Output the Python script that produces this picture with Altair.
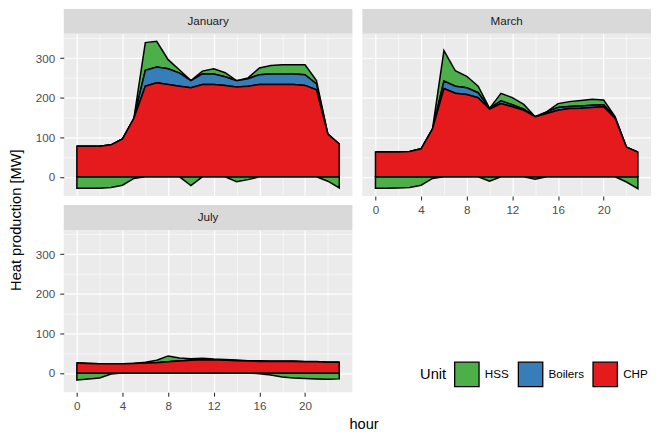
import altair as alt
import pandas as pd

months = ["January", "March", "July"]
hours = list(range(24))
units = ["HSS", "Boilers", "CHP"]
unit_colors = ["#4DAF4A", "#377EB8", "#E41A1C"]

# CHP production [MW]
chp_jan = [77.5, 77.5, 77.5, 81, 96, 148, 229, 237.5, 233, 229, 225, 233,
           233, 231, 227, 229, 233, 233, 233, 233, 231, 220, 108, 83]
chp_mar = [62.5, 62.5, 62.5, 64, 71, 121, 223, 211, 208, 200, 171, 185,
           177, 168, 152, 160, 168, 172.5, 173, 175, 177, 148, 75, 62.5]
chp_jul = [25, 24, 23, 23, 23, 24, 25, 26, 28, 30, 32, 33,
           33, 32, 31, 30, 29, 29, 29, 29, 28, 28, 27, 27]

# Boilers production [MW]
boil_jan = [0, 0, 0, 0, 0, 0, 40, 40, 40, 33, 18, 27,
            27, 22, 16, 19, 25, 27, 27, 27, 27, 15, 0, 0]
boil_mar = [0, 0, 0, 0, 0, 0, 19, 18, 17, 12.5, 2, 7,
            5, 3, 0, 4, 7, 5, 6, 6, 5, 2, 0, 0]
boil_jul = [0] * 24

# Heat storage discharge (positive) [MW]
hss_out_jan = [0, 0, 0, 0, 0, 0, 70, 65, 23, 8, 0, 7,
               13, 10, 0, 2, 17, 21, 23, 23, 25, 8, 0, 0]
hss_out_mar = [0, 0, 0, 0, 0, 0, 77, 39, 29, 16.5, 0, 19,
               18, 12, 0, 0, 10, 12.5, 14, 15, 12, 2, 0, 0]
hss_out_jul = [0, 0, 0, 0, 0, 0, 2, 6, 15, 8, 4, 4,
               2, 2, 2, 1, 2, 1, 1, 1, 1, 1, 0, 0]

# Heat storage charge (negative) [MW]
hss_in_jan = [-29, -29, -29, -27, -21, -4, 0, 0, 0, 0, -22, 0,
              0, 0, -12, -7, 0, 0, 0, 0, 0, 0, -11, -28]
hss_in_mar = [-29, -29, -28, -27, -21, -4, 0, 0, 0, 0, -11, 0,
              0, 0, -6, 0, 0, 0, 0, 0, 0, 0, -13, -30]
hss_in_jul = [-18, -15, -12.5, -2.5, 0, 0, 0, 0, 0, 0, 0, 0,
              0, 0, 0, 0, -2, -5, -10, -13, -14, -15, -16, -15]

chp_all = [chp_jan, chp_mar, chp_jul]
boil_all = [boil_jan, boil_mar, boil_jul]
out_all = [hss_out_jan, hss_out_mar, hss_out_jul]
in_all = [hss_in_jan, hss_in_mar, hss_in_jul]

rows = []
for m, cs, bs, ps, ns in zip(months, chp_all, boil_all, out_all, in_all):
    for h, c, b, p, n in zip(hours, cs, bs, ps, ns):
        rows.append(dict(month=m, hour=h, Unit="CHP", part="CHP", lo=0, hi=c))
        rows.append(dict(month=m, hour=h, Unit="Boilers", part="Boilers", lo=c, hi=c + b))
        rows.append(dict(month=m, hour=h, Unit="HSS", part="HSS out", lo=c + b, hi=c + b + p))
        rows.append(dict(month=m, hour=h, Unit="HSS", part="HSS in", lo=n, hi=0))
df = pd.DataFrame(rows)

ymin, ymax = df["lo"].min(), df["hi"].max()
ypad = 0.05 * (ymax - ymin)
ydom = [float(ymin - ypad), float(ymax + ypad)]
xpad = 0.05 * (max(hours) - min(hours))
xdom = [min(hours) - xpad, max(hours) + xpad]

FONT = "Liberation Sans"
PW, PH, SH = 290, 163, 25

x_major = "datum.value % 4 === 0"
y_major = "datum.value % 100 === 0"


def make_axis(test, values, labels, pad):
    kw = dict(
        values=values,
        title=None,
        grid=True,
        gridColor="white",
        gridWidth={"condition": {"test": test, "value": 1.2}, "value": 0.55},
    )
    if labels:
        kw.update(
            labelExpr=f"{test} ? datum.label : ''",
            ticks=True,
            tickSize=4,
            tickWidth=1.1,
            tickColor={"condition": {"test": test, "value": "#333333"}, "value": "transparent"},
            labelPadding=pad,
        )
    else:
        kw.update(labels=False, ticks=False)
    return alt.Axis(**kw)


color_enc = alt.Color(
    "Unit:N",
    scale=alt.Scale(domain=units, range=unit_colors),
    legend=alt.Legend(
        orient="none", legendX=358, legendY=354, direction="horizontal",
        titleOrient="left", titleBaseline="middle", titleAnchor="middle",
        symbolType="square", symbolSize=600, symbolStrokeColor="black",
        symbolStrokeWidth=1.3, symbolOpacity=1,
        labelFont=FONT, labelFontSize=11.7, labelColor="black", labelOffset=5,
        titleFont=FONT, titleFontSize=14.7, titleFontWeight="normal", titleColor="black",
        titlePadding=7, columnPadding=6, padding=0,
    ),
)


def panel(month, xlabels, ylabels):
    base = alt.Chart(df).transform_filter(alt.datum.month == month)
    xaxis = make_axis(x_major, list(range(0, 24, 2)), xlabels, 4)
    yaxis = make_axis(y_major, list(range(0, 400, 50)), ylabels, 5)
    layers = []
    for part in ["HSS in", "HSS out", "Boilers", "CHP"]:
        layers.append(
            base.transform_filter(alt.datum.part == part)
            .mark_area(stroke="black", strokeWidth=1.5, opacity=1, interpolate="linear")
            .encode(
                x=alt.X("hour:Q", scale=alt.Scale(domain=xdom, nice=False, zero=False), axis=xaxis),
                y=alt.Y("lo:Q", scale=alt.Scale(domain=ydom, nice=False, zero=False), axis=yaxis),
                y2="hi:Q",
                color=color_enc,
            )
        )
    return alt.layer(*layers).properties(width=PW, height=PH)


def strip(month):
    return (
        alt.Chart(pd.DataFrame({"month": [month]}))
        .mark_text(font=FONT, fontSize=11.7, color="#1A1A1A", baseline="middle", align="center")
        .encode(text="month:N", x=alt.value(PW / 2), y=alt.value(SH / 2))
        .properties(width=PW, height=SH, view=alt.ViewBackground(fill="#D9D9D9", stroke=None))
    )


jan = alt.vconcat(strip("January"), panel("January", False, True), spacing=0)
jul = alt.vconcat(strip("July"), panel("July", True, True), spacing=0)
mar = alt.vconcat(strip("March"), panel("March", True, False), spacing=0)

left = alt.vconcat(jan, jul, spacing=9)
body = alt.hconcat(left, mar, spacing=10).properties(
    title=alt.TitleParams("hour", orient="bottom", anchor="middle", font=FONT,
                          fontSize=14.7, fontWeight="normal", color="black", offset=5, dx=21)
)
chart = alt.vconcat(body).properties(
    padding=0,
    title=alt.TitleParams("Heat production [MW]", orient="left", anchor="middle", font=FONT,
                          fontSize=14.7, fontWeight="normal", color="black", offset=12)
).configure_view(fill="#EBEBEB", stroke=None).configure_axis(
    domain=False, labelFont=FONT, labelFontSize=11.7, labelColor="#4D4D4D"
).configure_concat(spacing=0)

chart.save("out.html", embed_options={"renderer": "svg", "actions": False})
